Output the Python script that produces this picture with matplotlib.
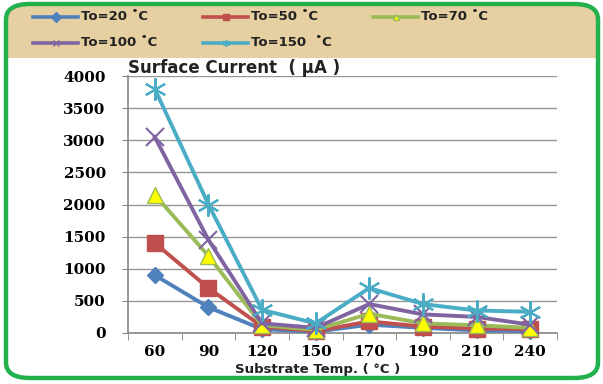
import matplotlib
matplotlib.use("Agg")
import matplotlib.pyplot as plt
from matplotlib.patches import FancyBboxPatch, Rectangle
from matplotlib.lines import Line2D

W, H = 603, 384

# data
temps = ["60", "90", "120", "150", "170", "190", "210", "240"]
to20 = [900, 400, 60, 20, 130, 80, 40, 30]
to50 = [1400, 700, 100, 30, 180, 100, 70, 60]
to70 = [2150, 1200, 120, 50, 300, 150, 120, 80]
to100 = [3050, 1450, 150, 80, 450, 290, 250, 130]
to150 = [3800, 2000, 360, 150, 700, 450, 350, 330]
labels = ["To=20 ˚C", "To=50 ˚C", "To=70 ˚C", "To=100 ˚C", "To=150  ˚C"]
yticks = [0, 500, 1000, 1500, 2000, 2500, 3000, 3500, 4000]

series = [to20, to50, to70, to100, to150]
colors = ["#4F81BD", "#C0504D", "#9BBB59", "#8064A2", "#4BACC6"]
markers = ["D", "s", "^", "x", (6, 2, 0)]
mfc = ["#4F81BD", "#C0504D", "#FFFF00", "#8064A2", "#4BACC6"]
msize = [8, 11, 12, 13, 16]

fig = plt.figure(figsize=(W / 100, H / 100), dpi=100)

def fx(px):
    return px / W

def fy(py):
    return 1 - py / H

# background: white rounded box, tan band on top clipped to it, green frame
box = dict(boxstyle="round,pad=0,rounding_size=0.04", transform=fig.transFigure)
back = FancyBboxPatch((fx(6), fy(378)), fx(598) - fx(6), fy(4) - fy(378),
                      facecolor="white", edgecolor="none", zorder=-3, **box)
fig.patches.append(back)
band = Rectangle((0, fy(58)), 1, 1 - fy(58), transform=fig.transFigure,
                 facecolor="#E6D0A2", edgecolor="none", zorder=-2)
band.set_clip_path(back)
fig.patches.append(band)
frame = FancyBboxPatch((fx(6), fy(378)), fx(598) - fx(6), fy(4) - fy(378),
                       facecolor="none", edgecolor="#22B14C", linewidth=3.2,
                       zorder=5, **box)
fig.patches.append(frame)

ax = fig.add_axes([fx(128), fy(333), fx(557) - fx(128), fy(76) - fy(333)])
ax.set_facecolor("none")
x = list(range(len(temps)))
for s, c, m, fc, ms in zip(series, colors, markers, mfc, msize):
    ax.plot(x, s, color=c, linewidth=2.8, marker=m, markersize=ms,
            markerfacecolor=fc, markeredgecolor=c,
            markeredgewidth=1.5 if m in ("x", (6, 2, 0)) else 1,
            clip_on=False, zorder=3)

ax.set_xlim(-0.5, len(temps) - 0.5)
ax.set_ylim(0, 4000)
ax.set_yticks(yticks)
ax.set_xticks(x)
ax.set_xticklabels(temps)
ax.set_xticks([i - 0.5 for i in range(len(temps) + 1)], minor=True)
ax.tick_params(axis="x", which="major", length=0, pad=9)
ax.tick_params(axis="x", which="minor", length=5, color="#868686", direction="out")
ax.tick_params(axis="y", length=4, color="#868686", pad=12)
for lab in ax.get_xticklabels() + ax.get_yticklabels():
    lab.set_fontfamily("DejaVu Serif")
    lab.set_fontweight("bold")
    lab.set_fontsize(11)
ax.grid(axis="y", color="#969696", linewidth=1)
ax.set_axisbelow(True)
for sp in ("top", "right"):
    ax.spines[sp].set_visible(False)
for sp in ("left", "bottom"):
    ax.spines[sp].set_color("#868686")
    ax.spines[sp].set_linewidth(1.2)

fig.text(fx(128), fy(73), "Surface Current  ( µA )", fontsize=12, fontweight="bold",
         ha="left", va="baseline", color="#222222")
fig.text(fx(318), fy(369), "Substrate Temp. ( °C )", fontsize=9.5, fontweight="bold",
         ha="center", va="center", color="#222222")

# legend in the tan band
for i, (lab, c, m, fc) in enumerate(zip(labels, colors, markers, mfc)):
    col, row = i % 3, i // 3
    x0 = 33 + 170 * col
    yy = fy(17 + 26 * row)
    fig.lines.append(Line2D([fx(x0), fx(x0 + 45)], [yy, yy], transform=fig.transFigure,
                            color=c, linewidth=2.6))
    fig.lines.append(Line2D([fx(x0 + 22.5)], [yy], transform=fig.transFigure,
                            color=c, marker=m, markersize=5, markerfacecolor=fc,
                            markeredgecolor=c, linewidth=0))
    fig.text(fx(x0 + 48), yy, lab, fontsize=9.5, fontweight="bold", ha="left",
             va="center", color="#222222")

fig.savefig("out.png", dpi=100)
